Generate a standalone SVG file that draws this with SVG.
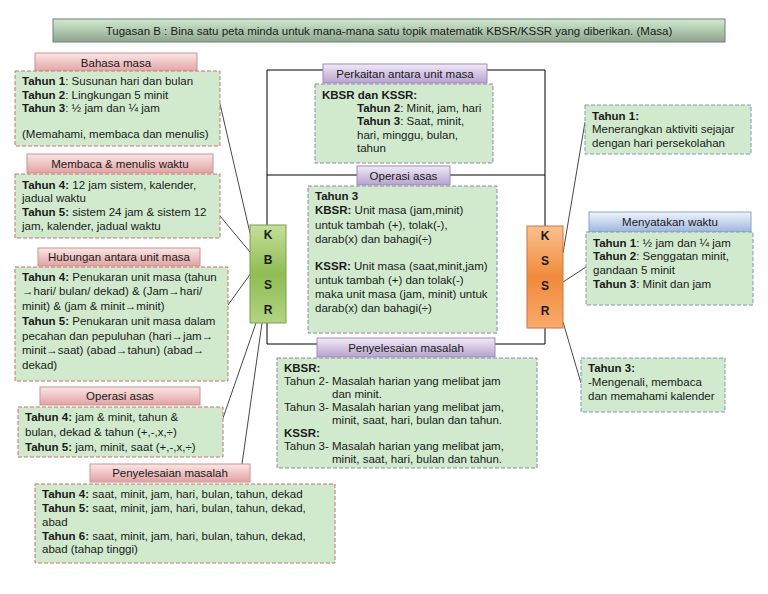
<svg xmlns="http://www.w3.org/2000/svg" width="768" height="594" viewBox="0 0 768 594">
<defs>
<linearGradient id="gTitle" x1="0" y1="0" x2="0" y2="1"><stop offset="0" stop-color="#d2ead2"/><stop offset="1" stop-color="#8ea48e"/></linearGradient>
<linearGradient id="gPink" x1="0" y1="0" x2="0" y2="1"><stop offset="0" stop-color="#fbe6e6"/><stop offset="1" stop-color="#e2a2a2"/></linearGradient>
<linearGradient id="gPurple" x1="0" y1="0" x2="0" y2="1"><stop offset="0" stop-color="#f1eaf7"/><stop offset="1" stop-color="#b7a2cf"/></linearGradient>
<linearGradient id="gBlue" x1="0" y1="0" x2="0" y2="1"><stop offset="0" stop-color="#f0f4fb"/><stop offset="1" stop-color="#9db6df"/></linearGradient>
<linearGradient id="gGreen" x1="0" y1="0" x2="0" y2="1"><stop offset="0" stop-color="#c4df9c"/><stop offset="0.5" stop-color="#8fbd52"/><stop offset="1" stop-color="#b3d384"/></linearGradient>
<linearGradient id="gOrange" x1="0" y1="0" x2="0" y2="1"><stop offset="0" stop-color="#fbc08e"/><stop offset="0.5" stop-color="#f18a3c"/><stop offset="1" stop-color="#f8aa6c"/></linearGradient>
</defs>
<style>
text{font-family:"Liberation Sans",Arial,sans-serif;font-size:11.5px;fill:#1a1a1a}
.b{font-weight:bold}
.c{text-anchor:middle}
.box{fill:#d1eace;stroke-width:1;stroke-dasharray:4 2}
.red{stroke:#c47474}
.pur{stroke:#8c8aa8}
.blu{stroke:#7f98ba}
.hp{fill:url(#gPink);stroke:#c99494;stroke-width:1}
.hv{fill:url(#gPurple);stroke:#9d8cb4;stroke-width:1}
.hb{fill:url(#gBlue);stroke:#8ca2c4;stroke-width:1}
.frame{stroke:#000;stroke-width:1;fill:none}
.con{stroke:#333;stroke-width:0.9;fill:none}
.big{font-weight:bold;font-size:12px;text-anchor:middle}
</style>

<g id="title">
<rect x="53" y="19" width="672" height="23" fill="url(#gTitle)" stroke="#6f806f"/>
<text class="c" x="389" y="35">Tugasan B : Bina satu peta minda untuk mana-mana satu topik matematik KBSR/KSSR yang diberikan. (Masa)</text>
</g>

<g id="connectors">
<polyline class="frame" points="323,70 267,70 267,344 317,344"/>
<polyline class="frame" points="487,70 545,70 545,344 495,344"/>
<line class="frame" x1="267" y1="175" x2="357" y2="175"/>
<line class="frame" x1="450" y1="175" x2="545" y2="175"/>
<line class="con" x1="220" y1="104" x2="250" y2="233"/>
<line class="con" x1="220" y1="216" x2="250" y2="252"/>
<line class="con" x1="228" y1="305" x2="251" y2="273"/>
<line class="con" x1="223" y1="418" x2="256" y2="323"/>
<line class="con" x1="242" y1="464" x2="262" y2="323"/>
<line class="con" x1="563" y1="253" x2="585" y2="122"/>
<line class="con" x1="563" y1="282" x2="586" y2="267"/>
<line class="con" x1="563" y1="322" x2="581" y2="383"/>
</g>

<g id="kbsr">
<rect x="250" y="225" width="36" height="98" fill="url(#gGreen)" stroke="#7c9c52"/>
<text class="big" x="268" y="239">K</text>
<text class="big" x="268" y="264">B</text>
<text class="big" x="268" y="289">S</text>
<text class="big" x="268" y="314">R</text>
</g>

<g id="kssr">
<rect x="527" y="226" width="36" height="102" fill="url(#gOrange)" stroke="#c9773a"/>
<text class="big" x="545" y="240">K</text>
<text class="big" x="545" y="265">S</text>
<text class="big" x="545" y="290">S</text>
<text class="big" x="545" y="315">R</text>
</g>

<g id="bahasa-masa">
<rect class="hp" x="35" y="53" width="162" height="19"/>
<text class="c" x="116" y="67">Bahasa masa</text>
<rect class="box red" x="15" y="71" width="205" height="75"/>
<text x="22" y="85"><tspan class="b">Tahun 1</tspan>: Susunan hari dan bulan</text>
<text x="22" y="99"><tspan class="b">Tahun 2</tspan>: Lingkungan 5 minit</text>
<text x="22" y="112"><tspan class="b">Tahun 3</tspan>: ½ jam dan ¼ jam</text>
<text x="22" y="138">(Memahami, membaca dan menulis)</text>
</g>

<g id="membaca-menulis">
<rect class="hp" x="27" y="154" width="186" height="19"/>
<text class="c" x="120" y="168">Membaca &amp; menulis waktu</text>
<rect class="box red" x="15" y="174" width="205" height="64"/>
<text x="22" y="189"><tspan class="b">Tahun 4:</tspan> 12 jam sistem, kalender,</text>
<text x="22" y="202">jadual waktu</text>
<text x="22" y="216"><tspan class="b">Tahun 5:</tspan> sistem 24 jam &amp; sistem 12</text>
<text x="22" y="230">jam, kalender, jadual waktu</text>
</g>

<g id="hubungan">
<rect class="hp" x="38" y="248" width="162" height="18"/>
<text class="c" x="119" y="261">Hubungan antara unit masa</text>
<rect class="box red" x="15" y="267" width="213" height="114"/>
<text x="22" y="281"><tspan class="b">Tahun 4:</tspan> Penukaran unit masa (tahun</text>
<text x="22" y="295">→hari/ bulan/ dekad) &amp; (Jam→hari/</text>
<text x="22" y="310">minit) &amp; (jam &amp; minit→minit)</text>
<text x="22" y="325"><tspan class="b">Tahun 5:</tspan> Penukaran unit masa dalam</text>
<text x="22" y="340">pecahan dan pepuluhan (hari→jam→</text>
<text x="22" y="354">minit→saat) (abad→tahun) (abad→</text>
<text x="22" y="369">dekad)</text>
</g>

<g id="operasi-kbsr">
<rect class="hp" x="40" y="387" width="160" height="18"/>
<text class="c" x="120" y="400">Operasi asas</text>
<rect class="box red" x="18" y="407" width="205" height="50"/>
<text x="25" y="421"><tspan class="b">Tahun 4:</tspan> jam &amp; minit, tahun &amp;</text>
<text x="25" y="436">bulan, dekad &amp; tahun (+,-,x,÷)</text>
<text x="25" y="451"><tspan class="b">Tahun 5:</tspan> jam, minit, saat (+,-,x,÷)</text>
</g>

<g id="penyelesaian-kbsr">
<rect class="hp" x="90" y="464" width="160" height="18"/>
<text class="c" x="170" y="477">Penyelesaian masalah</text>
<rect class="box red" x="35" y="484" width="300" height="79"/>
<text x="42" y="498"><tspan class="b">Tahun 4:</tspan> saat, minit, jam, hari, bulan, tahun, dekad</text>
<text x="42" y="512"><tspan class="b">Tahun 5:</tspan> saat, minit, jam, hari, bulan, tahun, dekad,</text>
<text x="42" y="526">abad</text>
<text x="42" y="540"><tspan class="b">Tahun 6:</tspan> saat, minit, jam, hari, bulan, tahun, dekad,</text>
<text x="42" y="553">abad (tahap tinggi)</text>
</g>

<g id="perkaitan">
<rect class="hv" x="323" y="64" width="164" height="19"/>
<text class="c" x="405" y="78">Perkaitan antara unit masa</text>
<rect class="box pur" x="315" y="84" width="178" height="79"/>
<text class="b" x="322" y="99">KBSR dan KSSR:</text>
<text x="357" y="112"><tspan class="b">Tahun 2</tspan>: Minit, jam, hari</text>
<text x="357" y="125"><tspan class="b">Tahun 3</tspan>: Saat, minit,</text>
<text x="357" y="139">hari, minggu, bulan,</text>
<text x="357" y="152">tahun</text>
</g>

<g id="operasi-asas">
<rect class="hv" x="357" y="166" width="93" height="19"/>
<text class="c" x="403.5" y="180">Operasi asas</text>
<rect class="box pur" x="308" y="186" width="189" height="147"/>
<text class="b" x="315" y="200">Tahun 3</text>
<text x="315" y="214"><tspan class="b">KBSR:</tspan> Unit masa (jam,minit)</text>
<text x="315" y="229">untuk tambah (+), tolak(-),</text>
<text x="315" y="243">darab(x) dan bahagi(÷)</text>
<text x="315" y="270"><tspan class="b">KSSR:</tspan> Unit masa (saat,minit,jam)</text>
<text x="315" y="284">untuk tambah (+) dan tolak(-)</text>
<text x="315" y="298">maka unit masa (jam, minit) untuk</text>
<text x="315" y="312">darab(x) dan bahagi(÷)</text>
</g>

<g id="penyelesaian">
<rect class="hv" x="317" y="338" width="178" height="19"/>
<text class="c" x="406" y="352">Penyelesaian masalah</text>
<rect class="box pur" x="277" y="358" width="260" height="110"/>
<text class="b" x="284" y="372">KBSR:</text>
<text x="284" y="385">Tahun 2- Masalah harian yang melibat jam</text>
<text x="332" y="398">dan minit.</text>
<text x="284" y="411">Tahun 3- Masalah harian yang melibat jam,</text>
<text x="332" y="424">minit, saat, hari, bulan dan tahun.</text>
<text class="b" x="284" y="437">KSSR:</text>
<text x="284" y="450">Tahun 3- Masalah harian yang melibat jam,</text>
<text x="332" y="463">minit, saat, hari, bulan dan tahun.</text>
</g>

<g id="kssr-tahun1">
<rect class="box blu" x="585" y="105" width="166" height="49"/>
<text class="b" x="592" y="120">Tahun 1:</text>
<text x="592" y="133">Menerangkan aktiviti sejajar</text>
<text x="592" y="147">dengan hari persekolahan</text>
</g>

<g id="menyatakan-waktu">
<rect class="hb" x="589" y="212" width="162" height="20"/>
<text class="c" x="670" y="226">Menyatakan waktu</text>
<rect class="box blu" x="586" y="232" width="167" height="73"/>
<text x="593" y="247"><tspan class="b">Tahun 1</tspan>: ½ jam dan ¼ jam</text>
<text x="593" y="260"><tspan class="b">Tahun 2</tspan>: Senggatan minit,</text>
<text x="593" y="274">gandaan 5 minit</text>
<text x="593" y="288"><tspan class="b">Tahun 3</tspan>: Minit dan jam</text>
</g>

<g id="kssr-kalender">
<rect class="box blu" x="581" y="358" width="144" height="54"/>
<text class="b" x="588" y="372">Tahun 3:</text>
<text x="588" y="386">-Mengenali, membaca</text>
<text x="588" y="400">dan memahami kalender</text>
</g>
</svg>
